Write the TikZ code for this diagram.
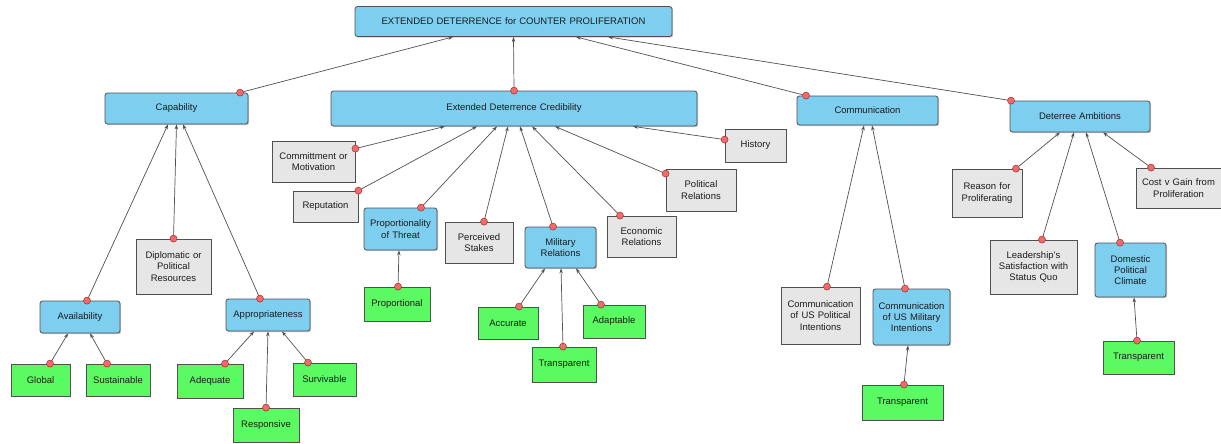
\documentclass[tikz,border=0pt]{standalone}
\usepackage{fontspec}
\setmainfont{Liberation Sans}
\usetikzlibrary{arrows.meta,shadows}
\definecolor{bluebox}{HTML}{7ECEF0}
\definecolor{graybox}{HTML}{E6E6E6}
\definecolor{greenbox}{HTML}{5CFA62}
\definecolor{edge}{HTML}{505050}
\definecolor{ink}{HTML}{1C1C1C}
\definecolor{dotfill}{HTML}{F26B6B}
\definecolor{dotline}{HTML}{A03030}
\definecolor{shade}{HTML}{C8C8C8}
\newcommand\link[2]{\draw[conn] (#1) -- (#2); \node[dot] at (#1) {};}
\tikzset{
  box/.style={draw=edge, line width=0.8pt, inner sep=1pt, align=center, text=ink,
    font=\fontsize{9.5}{11.3}\selectfont,
    drop shadow={shadow xshift=1.2pt, shadow yshift=-1.2pt, fill=shade, opacity=1}},
  bluen/.style={box, fill=bluebox, rounded corners=2.5pt},
  grayn/.style={box, fill=graybox},
  greenn/.style={box, fill=greenbox},
  sz/.style 2 args={minimum width=#1pt, minimum height=#2pt, text width=#1pt-4pt},
  conn/.style={draw=edge, line width=0.7pt, -{Stealth[length=5pt,width=3.5pt]}},
  dot/.style={circle, fill=dotfill, draw=dotline, line width=0.5pt, minimum size=7pt, inner sep=0pt},
}
\begin{document}
\begin{tikzpicture}[x=1pt,y=-1pt]
\useasboundingbox (0,0) rectangle (1221,444);
% root and first level
\node[bluen, sz={317}{30}] (title) at (513.5,21.5) {EXTENDED DETERRENCE for COUNTER PROLIFERATION};
\node[bluen, sz={143}{31}] (cap) at (176.5,108.5) {Capability};
\node[bluen, sz={366}{35}] (edc) at (514,108.5) {Extended Deterrence Credibility};
\node[bluen, sz={141}{29}] (comm) at (867.5,110.5) {Communication};
\node[bluen, sz={140}{31}] (deter) at (1080,116.5) {Deterree Ambitions};
% capability branch
\node[grayn, sz={75}{55}] (dipl) at (173.5,266.5) {Diplomatic or\\Political\\Resources};
\node[bluen, sz={80}{32}] (avail) at (80,317) {Availability};
\node[bluen, sz={84}{32}] (approp) at (268,315) {Appropriateness};
\node[greenn, sz={59}{32}] (global) at (40.5,380) {Global};
\node[greenn, sz={64}{32}] (sust) at (118,380) {Sustainable};
\node[greenn, sz={66}{34}] (adeq) at (210,381) {Adequate};
\node[greenn, sz={66}{34}] (resp) at (266,425) {Responsive};
\node[greenn, sz={63}{33}] (surv) at (324.5,379.5) {Survivable};
% credibility branch
\node[grayn, sz={83}{41}] (commit) at (313.5,161.5) {Committment or\\Motivation};
\node[grayn, sz={65}{31}] (rep) at (325.5,206.5) {Reputation};
\node[bluen, sz={73}{42}] (prop) at (400.5,229) {Proportionality\\of Threat};
\node[grayn, sz={68}{41}] (stakes) at (479,242.5) {Perceived\\Stakes};
\node[bluen, sz={71}{41}] (mil) at (560.5,247.5) {Military\\Relations};
\node[grayn, sz={69}{41}] (econ) at (641.5,236.5) {Economic\\Relations};
\node[grayn, sz={70}{42}] (polrel) at (701,190) {Political\\Relations};
\node[grayn, sz={61}{33}] (hist) at (755.5,145.5) {History};
\node[greenn, sz={66}{34}] (propl) at (397,304) {Proportional};
\node[greenn, sz={60}{32}] (acc) at (508,323) {Accurate};
\node[greenn, sz={64}{35}] (mtrans) at (564,364.5) {Transparent};
\node[greenn, sz={62}{33}] (adapt) at (614,321.5) {Adaptable};
% communication branch
\node[grayn, sz={79}{57}] (cpol) at (820.5,315.5) {Communication\\of US Political\\Intentions};
\node[bluen, sz={77}{56}] (cmil) at (911.5,317) {Communication\\of US Military\\Intentions};
\node[greenn, sz={81}{35}] (ctrans) at (902.5,402.5) {Transparent};
% ambitions branch
\node[grayn, sz={70}{48}] (reason) at (987,193) {Reason for\\Proliferating};
\node[grayn, sz={87}{54}] (lead) at (1033.5,267) {Leadership's\\Satisfaction with\\Status Quo};
\node[bluen, sz={71}{54}] (dom) at (1130.5,270) {Domestic\\Political\\Climate};
\node[greenn, sz={71}{33}] (dtrans) at (1138.5,357.5) {Transparent};
\node[grayn, sz={85}{40}] (cost) at (1178.5,188) {Cost v Gain from\\Proliferation};
% connectors into the root
\link{[xshift=63.5pt]cap.north}{[xshift=-60.5pt]title.south}
\link{edc.north}{title.south}
\link{[xshift=-61.5pt]comm.north}{[xshift=62.5pt]title.south}
\link{[xshift=-69pt]deter.north}{[xshift=94.5pt]title.south}
% capability
\link{[xshift=7pt]avail.north}{[xshift=-8.5pt]cap.south}
\link{dipl.north}{cap.south}
\link{[xshift=-8pt]approp.north}{[xshift=6.5pt]cap.south}
\link{[xshift=9.5pt]global.north}{[xshift=-12pt]avail.south}
\link{[xshift=-11pt]sust.north}{[xshift=10pt]avail.south}
\link{[xshift=15pt]adeq.north}{[xshift=-14pt]approp.south}
\link{resp.north}{approp.south}
\link{[xshift=-16.5pt]surv.north}{[xshift=14pt]approp.south}
% credibility
\link{[yshift=-8pt]commit.north east}{[xshift=-69pt]edc.south}
\link{rep.north east}{[xshift=-37pt]edc.south}
\link{[xshift=20.5pt]prop.north}{[xshift=-17pt]edc.south}
\link{[xshift=5pt]stakes.north}{[xshift=-6pt]edc.south}
\link{[xshift=-7.5pt]mil.north}{[xshift=6pt]edc.south}
\link{[xshift=-21.5pt]econ.north}{[xshift=18pt]edc.south}
\link{[yshift=-5pt]polrel.north west}{[xshift=41pt]edc.south}
\link{[yshift=-11pt]hist.north west}{[xshift=119pt]edc.south}
\link{[xshift=1pt]propl.north}{[xshift=-1.5pt]prop.south}
\link{[xshift=11pt]acc.north}{[xshift=-15.5pt]mil.south}
\link{[xshift=-1pt]mtrans.north}{[xshift=0.5pt]mil.south}
\link{[xshift=-13pt]adapt.north}{[xshift=15.5pt]mil.south}
% communication
\link{[xshift=6.5pt]cpol.north}{[xshift=-3.5pt]comm.south}
\link{[xshift=-6.5pt]cmil.north}{[xshift=4.5pt]comm.south}
\link{[xshift=1.5pt]ctrans.north}{[xshift=-3.5pt]cmil.south}
% ambitions
\link{[xshift=29pt]reason.north}{[xshift=-20pt]deter.south}
\link{[xshift=8.5pt]lead.north}{[xshift=-6pt]deter.south}
\link{[xshift=-10.5pt]dom.north}{[xshift=6pt]deter.south}
\link{[xshift=-27.5pt]cost.north}{[xshift=23pt]deter.south}
\link{[xshift=-1.5pt]dtrans.north}{[xshift=3.5pt]dom.south}
\end{tikzpicture}
\end{document}
